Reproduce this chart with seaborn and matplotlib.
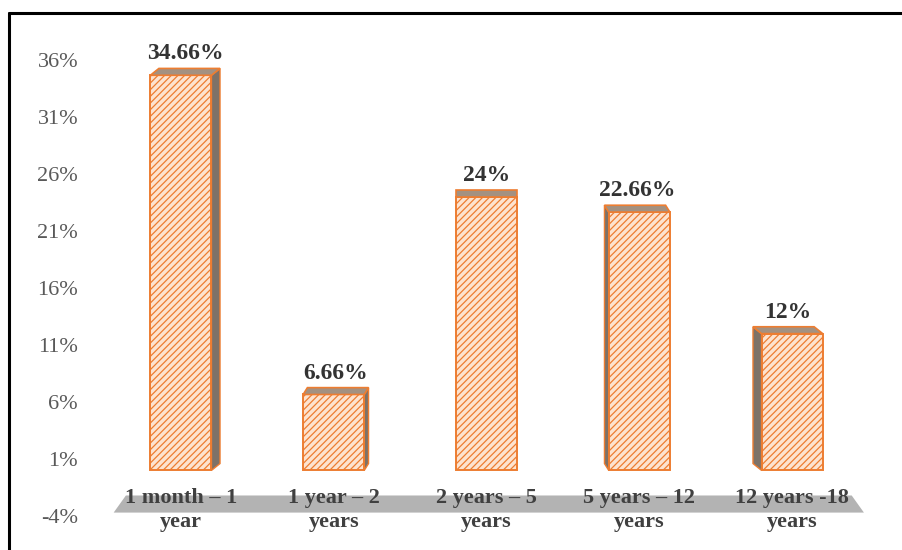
import matplotlib
matplotlib.use("Agg")
import matplotlib.pyplot as plt
from matplotlib.patches import Polygon
from matplotlib.lines import Line2D
import seaborn as sns
import pandas as pd

# ---- data -------------------------------------------------------------
age_groups = ["1 month \u2013 1\nyear", "1 year \u2013 2\nyears", "2 years \u2013 5\nyears",
              "5 years \u2013 12\nyears", "12 years -18\nyears"]
shares = [34.66, 6.66, 24, 22.66, 12]
value_labels = ["34.66%", "6.66%", "24%", "22.66%", "12%"]
y_ticks = [-4, 1, 6, 11, 16, 21, 26, 31, 36]
y_tick_labels = [f"{t}%" for t in y_ticks]

df = pd.DataFrame({"group": age_groups, "share": shares})

# ---- style ------------------------------------------------------------
sns.set_theme(style="white")
plt.rcParams["font.family"] = ["Liberation Serif", "DejaVu Serif"]
plt.rcParams["hatch.color"] = "#ef8a45"
plt.rcParams["hatch.linewidth"] = 0.9

ORANGE = "#ed7d31"
FRONT = "#fde3cf"
SIDE = "#7d7268"
TOP = "#a39181"
FLOOR = "#b3b3b3"
TEXT = "#404040"

fig = plt.figure(figsize=(9.02, 5.5), dpi=100)
ax = fig.add_axes([104.5 / 902, 1 - 516 / 550, 764 / 902, 456 / 550])

sns.barplot(data=df, x="group", y="share", ax=ax, color=FRONT, width=0.4,
            edgecolor=ORANGE, linewidth=1.4, hatch="/////", saturation=1, zorder=3)

ax.set_xlim(-0.5, 4.5)
ax.set_ylim(-4, 36)

# floor slab under the bars
floor = Polygon([(-0.44, -3.7), (-0.36, -2.2), (4.39, -2.2), (4.47, -3.7)],
                closed=True, facecolor=FLOOR, edgecolor="none", zorder=0.3, clip_on=False)
ax.add_patch(floor)

# 3-D side and top faces, leaning toward the centre of the chart
centre = (len(shares) - 1) / 2
depth_x = 0.028
depth_y = 0.6
for i, patch in enumerate(ax.patches[:len(shares)]):
    x0 = patch.get_x()
    w = patch.get_width()
    h = patch.get_height()
    x1 = x0 + w
    dx = depth_x * (centre - i)
    if dx > 0:
        side = [(x1, 0), (x1 + dx, depth_y), (x1 + dx, h + depth_y), (x1, h)]
    elif dx < 0:
        side = [(x0, 0), (x0 + dx, depth_y), (x0 + dx, h + depth_y), (x0, h)]
    else:
        side = None
    if side is not None:
        ax.add_patch(Polygon(side, closed=True, facecolor=SIDE, edgecolor=ORANGE,
                             linewidth=1.0, zorder=2))
    top = [(x0, h), (x1, h), (x1 + dx, h + depth_y), (x0 + dx, h + depth_y)]
    ax.add_patch(Polygon(top, closed=True, facecolor=TOP, edgecolor=ORANGE,
                         linewidth=1.2, zorder=4))
    ax.text(x0 + w / 2 + dx / 2, h + depth_y + 0.35, value_labels[i], ha="center", va="bottom",
            fontsize=17, fontweight="bold", color="#333333", zorder=5)

ax.set_yticks(y_ticks)
ax.set_yticklabels(y_tick_labels)
ax.tick_params(axis="y", length=0, pad=19, labelsize=16, labelcolor="#595959")
ax.tick_params(axis="x", length=0, pad=-20.5, labelsize=16, labelcolor=TEXT)
for lbl in ax.get_xticklabels():
    lbl.set_fontweight("bold")
    lbl.set_linespacing(1.28)
ax.set_axisbelow(False)
ax.set_xlabel("")
ax.set_ylabel("")
for s in ax.spines.values():
    s.set_visible(False)
ax.set_facecolor("none")

# outer frame (top and left edges)
fig.add_artist(Line2D([9 / 902, 9 / 902], [0, 1 - 13 / 550], transform=fig.transFigure,
                      color="black", linewidth=2.2))
fig.add_artist(Line2D([9 / 902, 1], [1 - 13 / 550, 1 - 13 / 550], transform=fig.transFigure,
                      color="black", linewidth=2.2))

fig.savefig("out.png", dpi=100, facecolor="white")
